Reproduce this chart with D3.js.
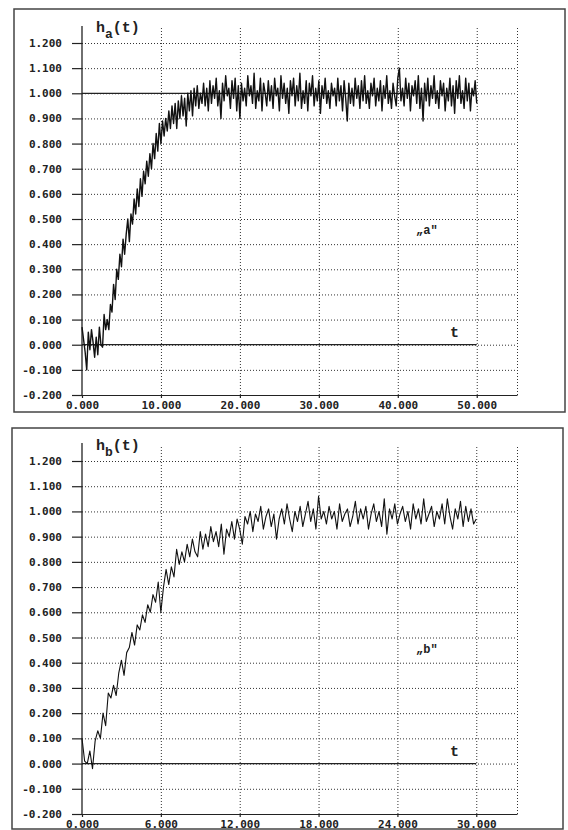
<!DOCTYPE html>
<html>
<head>
<meta charset="utf-8">
<script src="https://cdn.jsdelivr.net/npm/d3@7"></script>
<style>
body { margin: 0; background: #fff; }
svg { display: block; }
.axis text { font: bold 11px "DejaVu Sans Mono", monospace; fill: #222; }
.axis path, .axis line { stroke: #222; stroke-width: 1.2; }
.grid line { stroke: #333; stroke-dasharray: 1,2; }
.grid path { display: none; }
.frame { fill: none; stroke: #444; stroke-width: 1.5; }
.lbl { font: bold 15px "Liberation Mono", monospace; fill: #222; }
.tag { font: bold 12px "Liberation Mono", monospace; fill: #222; }
</style>
</head>
<body>
<script>
var yTicks = [-0.2, -0.1, 0, 0.1, 0.2, 0.3, 0.4, 0.5, 0.6, 0.7, 0.8, 0.9, 1.0, 1.1, 1.2];
var xTicksA = [0, 10, 20, 30, 40, 50];
var xTicksB = [0, 6, 12, 18, 24, 30];
var tEndA = 50, tEndB = 30;

// h_a(t), sampled every 0.2 from t=0 to t=50
var hA = [
  0.07, 0.02, -0.03, -0.10, 0.05, -0.02, 0.06, 0.01, -0.05, 0.03, -0.04, 0.07, 0.00, -0.01, 0.12, 0.06,
  0.10, 0.06, 0.16, 0.13, 0.24, 0.18, 0.30, 0.26, 0.36, 0.31,
  0.42, 0.36, 0.44, 0.50, 0.41, 0.52, 0.48, 0.58, 0.52, 0.62,
  0.55, 0.66, 0.59, 0.69, 0.64, 0.73, 0.67, 0.76, 0.70, 0.80,
  0.74, 0.84, 0.77, 0.88, 0.80, 0.89, 0.83, 0.90, 0.85, 0.93,
  0.86, 0.95, 0.88, 0.96, 0.86, 0.97, 0.90, 0.99, 0.91, 0.98,
  0.87, 1.00, 0.93, 1.01, 0.91, 1.02, 0.95, 1.03, 0.94, 1.00,
  0.96, 1.04, 0.95, 1.02, 0.93,
  1.05, 0.96, 1.03, 0.98, 1.06, 0.95, 1.01, 0.90, 1.04, 0.97,
  1.07, 0.99, 1.02, 0.94, 1.05, 0.98, 1.06, 0.93, 1.03, 0.90,
  1.04, 0.97, 1.02, 0.95, 1.07, 0.99, 1.03, 0.96, 1.08, 0.94,
  1.01, 0.97, 1.06, 0.93, 1.04, 1.00, 0.95, 1.05, 0.97, 1.03,
  0.94, 1.06, 0.99, 1.02, 0.93, 1.07, 0.98, 1.04, 0.96, 1.02,
  0.92, 1.05, 0.99, 1.06, 0.95, 1.03, 0.97, 1.08, 0.94, 1.01,
  0.96, 1.05, 0.93, 1.04, 0.99, 1.07, 0.95, 1.02, 0.97, 1.05,
  0.92, 1.03, 0.98, 1.06, 0.96, 1.01, 0.94, 1.04, 0.99, 1.02,
  0.95, 1.06, 0.97, 1.03, 0.93, 1.05, 0.98, 0.89, 1.04, 0.96,
  1.02, 0.95, 1.06, 0.98, 1.03, 0.94, 1.05, 0.97, 1.07, 0.96,
  1.01, 0.94, 1.04, 0.99, 1.06, 0.95, 1.02, 0.97, 1.05, 0.93,
  1.03, 0.98, 1.07, 0.96, 1.01, 0.94, 1.04, 0.99, 0.95, 1.06,
  1.10, 0.97, 1.02, 0.95, 1.06, 0.98, 1.04, 0.93, 1.03, 0.99,
  1.05, 0.96, 1.07, 0.94, 1.02, 0.89, 1.04, 0.97, 1.06, 0.95,
  1.03, 0.98, 1.07, 0.96, 1.01, 0.94, 1.05, 0.99, 1.04, 0.93,
  1.02, 0.97, 1.06, 0.95, 1.03, 0.92, 1.05, 0.98, 1.07, 0.96,
  1.01, 0.94, 1.06, 0.97, 1.04, 0.93, 1.02, 0.99, 1.05, 0.96
];

// h_b(t), sampled every 0.2 from t=0 to t=30
var hB = [
  0.10, 0.01, 0.00, 0.05, -0.02, 0.09, 0.13, 0.10, 0.20, 0.15,
  0.28, 0.26, 0.31, 0.27, 0.36, 0.41, 0.35, 0.44, 0.46, 0.52,
  0.47, 0.55, 0.53, 0.59, 0.56, 0.63, 0.60, 0.67, 0.64, 0.72,
  0.60, 0.70, 0.77, 0.71, 0.78, 0.74, 0.85, 0.79, 0.84, 0.80,
  0.87, 0.82, 0.89, 0.84, 0.82, 0.92, 0.85, 0.91, 0.86, 0.94,
  0.88, 0.92, 0.86, 0.95, 0.83, 0.93, 0.90, 0.96, 0.89, 0.97,
  0.93, 0.87, 0.98,
  0.95, 1.00, 0.92, 0.99, 0.96, 1.02, 0.93, 0.98, 1.01, 0.94,
  0.99, 0.89, 0.97, 1.01, 0.95, 1.03, 0.97, 0.92, 1.00, 0.96,
  1.02, 0.94, 0.99, 1.04, 0.96, 1.01, 0.93, 1.06, 0.97, 1.00,
  0.95, 1.02, 0.97, 1.00, 0.93, 1.03, 0.96, 0.99, 1.01, 0.94,
  0.98, 1.04, 0.95, 1.01, 0.97, 1.02, 0.93, 0.99, 1.03, 0.96,
  1.00, 0.94, 1.05, 0.91, 1.01, 0.97, 1.03, 0.95, 0.99, 1.02,
  0.96, 1.00, 0.93, 1.03, 0.97, 1.01, 0.95, 1.05, 0.96, 0.99,
  1.02, 0.94, 1.00, 0.97, 1.03, 0.95, 1.05, 0.98, 0.93, 1.01,
  0.97, 1.04, 0.94, 1.02, 0.96, 1.01, 0.95, 0.97
];

var fmt = d3.formatLocale({decimal: ".", thousands: ",", grouping: [3], currency: ["", ""], minus: "-"}).format(".3f");

var svg = d3.select("body").append("svg")
    .attr("width", 568)
    .attr("height", 830);

function drawPanel(o) {
  var g = svg.append("g");

  g.append("rect")
      .attr("class", "frame")
      .attr("x", o.frame[0]).attr("y", o.frame[1])
      .attr("width", o.frame[2]).attr("height", o.frame[3]);

  var x = d3.scaleLinear().domain([0, o.xMax]).range([82, 517]);
  var y = d3.scaleLinear().domain([-0.2, 1.2]).range([o.yBottom, o.yTop]);

  // dotted gridlines
  g.append("g")
      .attr("class", "grid")
      .attr("transform", "translate(82,0)")
      .call(d3.axisLeft(y).tickValues(yTicks.slice(1)).tickSize(-435).tickFormat(""));

  g.append("g")
      .attr("class", "grid")
      .attr("transform", "translate(0," + o.yBottom + ")")
      .call(d3.axisBottom(x).tickValues(o.xTicks.slice(1).concat([o.xMax]))
          .tickSize(-(o.yBottom - o.gridTop)).tickFormat(""));

  // solid reference lines
  o.refs.forEach(function(v) {
    g.append("line")
        .attr("x1", x(0)).attr("x2", x(o.tEnd))
        .attr("y1", y(v)).attr("y2", y(v))
        .attr("stroke", "#222").attr("stroke-width", 1.2);
  });

  var yAxis = g.append("g")
      .attr("class", "axis")
      .attr("transform", "translate(82,0)")
      .call(d3.axisLeft(y).tickValues(yTicks).tickSize(10).tickPadding(10).tickFormat(fmt));
  yAxis.select(".domain").remove();

  g.append("line")
      .attr("x1", 82).attr("x2", 82)
      .attr("y1", o.axisTop).attr("y2", o.yBottom)
      .attr("stroke", "#222").attr("stroke-width", 1.3);

  g.append("g")
      .attr("class", "axis")
      .attr("transform", "translate(0," + o.yBottom + ")")
      .call(d3.axisBottom(x).tickValues(o.xTicks).tickSize(3).tickSizeOuter(0).tickPadding(3).tickFormat(fmt));

  var n = o.data.length;
  var line = d3.line()
      .x(function(d, i) { return x(i * o.tEnd / (n - 1)); })
      .y(function(d) { return y(d); });

  g.append("path")
      .datum(o.data)
      .attr("fill", "none")
      .attr("stroke", "#111")
      .attr("stroke-width", o.lw)
      .attr("stroke-linejoin", "round")
      .attr("d", line);

  // labels
  var t = g.append("text").attr("class", "lbl").attr("x", 96).attr("y", o.yTop - 11);
  t.append("tspan").text("h");
  t.append("tspan").attr("dy", 6).attr("font-size", 13).text(o.sub);
  t.append("tspan").attr("dy", -6).text("(t)");

  g.append("text").attr("class", "tag")
      .attr("x", 416).attr("y", y(0.5) + 15)
      .text("\u201e" + o.sub + "\"");

  g.append("text").attr("class", "lbl")
      .attr("x", 450).attr("y", y(0.03))
      .text("t");
}

drawPanel({
  frame: [14, 9, 551, 403],
  xMax: 55.1, tEnd: tEndA, xTicks: xTicksA,
  yBottom: 395, yTop: 43, gridTop: 28, axisTop: 26,
  refs: [0, 1], data: hA, lw: 1.4, sub: "a"
});

drawPanel({
  frame: [12, 428, 551, 401],
  xMax: 33.1, tEnd: tEndB, xTicks: xTicksB,
  yBottom: 814, yTop: 461, gridTop: 445, axisTop: 443,
  refs: [0], data: hB, lw: 1.1, sub: "b"
});
</script>
</body>
</html>
